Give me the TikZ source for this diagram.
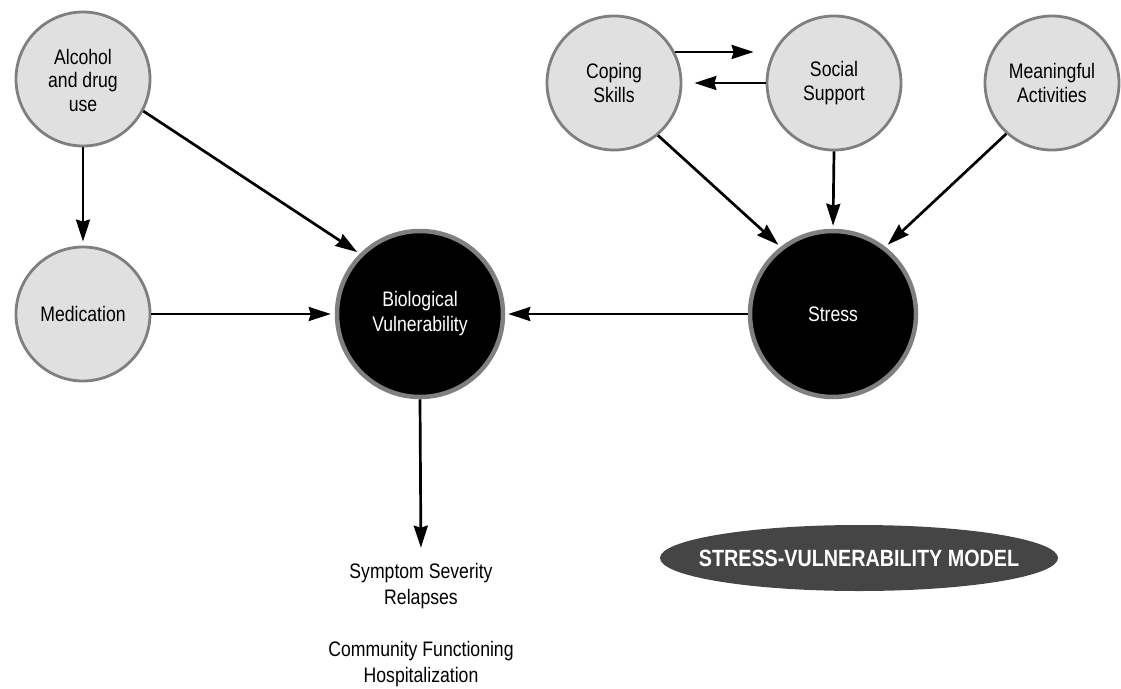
\documentclass[tikz,border=0pt]{standalone}
\usepackage{fontspec}
\setmainfont{Liberation Sans}[FakeStretch=0.84]
\usetikzlibrary{arrows.meta,shapes.geometric}
\definecolor{cfill}{HTML}{E0E0E0}
\definecolor{cedge}{HTML}{7F7F7F}
\definecolor{ovalfill}{HTML}{454545}
\begin{document}
\begin{tikzpicture}[x=1pt,y=-1pt,
  lightc/.style={circle,draw=cedge,line width=2.8pt,fill=cfill,minimum size=134pt,inner sep=0pt,align=center,font=\fontsize{21}{23.5}\selectfont},
  darkc/.style={circle,draw=cedge,line width=4.5pt,fill=black,text=white,minimum size=166pt,inner sep=0pt,align=center,font=\fontsize{21}{25}\selectfont},
  conn/.style={line width=2.7pt,-{Stealth[length=22pt,width=14pt,inset=2pt]}},
  outtext/.style={align=center,font=\fontsize{21}{26}\selectfont}
]
\useasboundingbox (0,0) rectangle (1121,688);
\node[lightc] (alc) at (83,79) {\\[-6pt]Alcohol\\and drug\\use};
\node[lightc] (med) at (83,314) {Medication};
\node[lightc] (cop) at (614,83) {Coping\\Skills};
\node[lightc] (soc) at (834,83) {Social\\Support};
\node[lightc] (mea) at (1052,83) {Meaningful\\Activities};
\node[darkc] (bio) at (420,314) {Biological\\Vulnerability};
\node[darkc] (str) at (833,314) {Stress};
\node[outtext] (o1) at (421,586) {Symptom Severity\\Relapses};
\node[outtext] (o2) at (421,664) {Community Functioning\\Hospitalization};
\fill[ovalfill] (859,558) ellipse [x radius=199, y radius=33];
\node[text=white,inner sep=0pt,font=\bfseries\fontsize{23.5}{26}\selectfont] (lab) at (859,558) {STRESS-VULNERABILITY MODEL};

\draw[conn,shorten >=4pt] (alc.south) -- (med.north);
\draw[conn,shorten >=3pt] (alc.-28) -- (bio.135);
\draw[conn,shorten >=4pt] (med.east) -- (bio.west);
\draw[conn,shorten >=3pt] (str.west) -- (bio.east);
\draw[conn,shorten >=12pt] (bio.south) -- (o1.north);
\draw[conn,shorten >=12pt] (cop.27) -- (cop.27 -| soc.west);
\draw[conn,shorten >=12pt] (soc.west) -- (cop.east);
\draw[conn,shorten >=3pt] (cop.-50) -- (str.128);
\draw[conn,shorten >=3pt] (soc.south) -- (str.north);
\draw[conn,shorten >=3pt] (mea.-132) -- (str.52);
\end{tikzpicture}
\end{document}
